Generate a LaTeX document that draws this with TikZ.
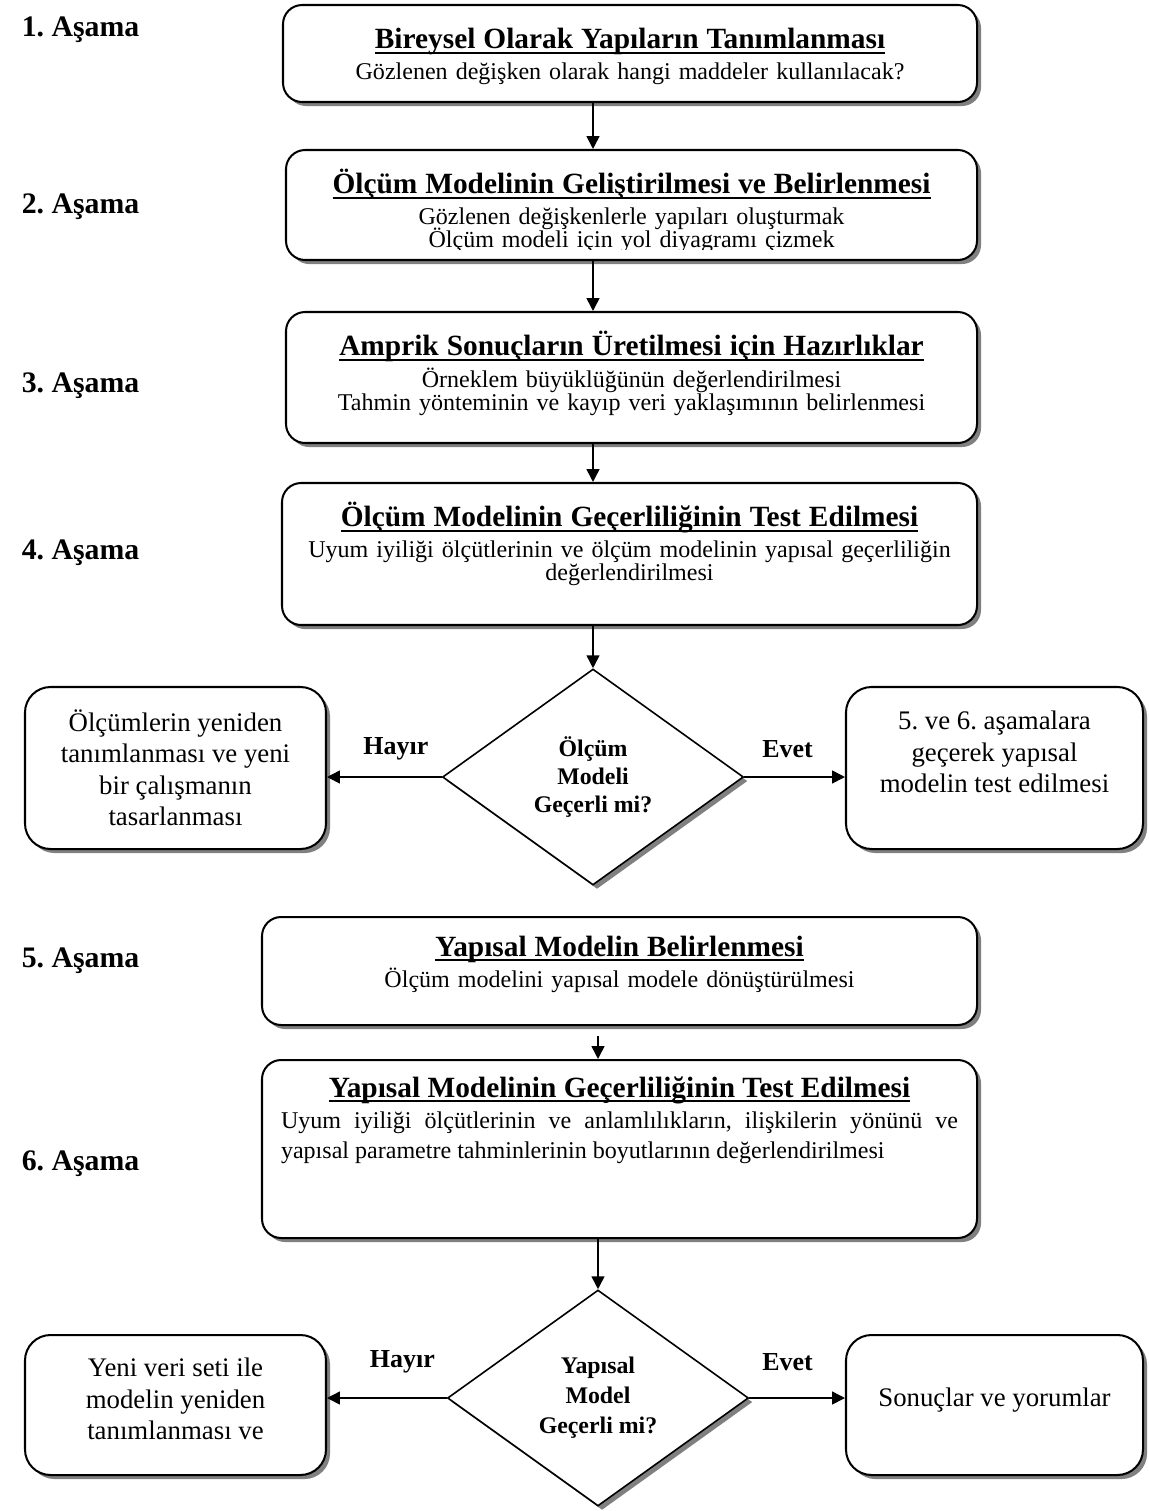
\documentclass[tikz,border=0pt]{standalone}
\usepackage{fontspec}
\setmainfont{Liberation Serif}
\usetikzlibrary{arrows.meta, positioning, shapes.geometric, shadows}
\frenchspacing

\newdimen\pxu
\pxu=0.47pt
\newcommand{\boxtitle}[1]{{\fontsize{13.8}{16}\selectfont\bfseries
  \setbox0=\hbox{#1}\rlap{\rule[-2.4pt]{\wd0}{0.9pt}}\box0}}

\begin{document}
\begin{tikzpicture}[x=\pxu, y=-\pxu,
    shadowed/.style={drop shadow={shadow xshift=1.9pt, shadow yshift=-1.9pt, fill=black!50, opacity=1}},
    stagebox/.style={draw, line width=0.95pt, rounded corners=9pt, fill=white, shadowed, inner sep=0pt},
    sidebox/.style={stagebox, rounded corners=12pt, minimum width=300\pxu},
    decision/.style={diamond, draw, line width=0.75pt, fill=white, shadowed, inner sep=0pt,
        minimum width=301\pxu, minimum height=216\pxu, align=center},
    boxtext/.style={align=center, inner sep=0pt, text width=670\pxu,
        font={\fontsize{11.3}{10.8}\selectfont\lineskiplimit=-20pt}},
    sidetext/.style={align=center, inner sep=0pt, font=\fontsize{12.6}{14.8}\selectfont},
    stagelbl/.style={font=\fontsize{14}{16}\selectfont\bfseries},
    answer/.style={font=\fontsize{12.2}{14}\selectfont\bfseries, inner sep=0pt},
    arr/.style={-{Triangle[length=6pt, width=6pt]}, line width=0.75pt}
]
\useasboundingbox (0,0) rectangle (1149,1511);

% stage labels
\node[stagelbl] (s1) at (80.5,30) {1. Aşama};
\node[stagelbl] (s2) at (80.5,207) {2. Aşama};
\node[stagelbl] (s3) at (80.5,386) {3. Aşama};
\node[stagelbl] (s4) at (80.5,553) {4. Aşama};
\node[stagelbl] (s5) at (80.5,961) {5. Aşama};
\node[stagelbl] (s6) at (80.5,1164) {6. Aşama};

% main boxes
\node[stagebox, minimum width=694\pxu, minimum height=97\pxu] (b1) at (630,53.5) {};
\node[boxtext, anchor=base] (t1) at ([yshift=-45\pxu]b1.north)
    {\boxtitle{Bireysel Olarak Yapıların Tanımlanması}\\[3.5pt]
     Gözlenen değişken olarak hangi maddeler kullanılacak?};

\node[stagebox, minimum width=691\pxu, minimum height=110\pxu] (b2) at (631.5,205) {};
\begin{scope}
  \clip (b2.north west) rectangle ([yshift=12\pxu]b2.south east);
  \node[boxtext, anchor=base] (t2) at ([yshift=-45\pxu]b2.north)
      {\boxtitle{Ölçüm Modelinin Geliştirilmesi ve Belirlenmesi}\\[3.5pt]
       Gözlenen değişkenlerle yapıları oluşturmak\\
       Ölçüm modeli için yol diyagramı çizmek};
\end{scope}

\node[stagebox, minimum width=691\pxu, minimum height=131\pxu] (b3) at (631.5,377.5) {};
\node[boxtext, anchor=base] (t3) at ([yshift=-45\pxu]b3.north)
    {\boxtitle{Amprik Sonuçların Üretilmesi için Hazırlıklar}\\[4pt]
     Örneklem büyüklüğünün değerlendirilmesi\\
     Tahmin yönteminin ve kayıp veri yaklaşımının belirlenmesi};

\node[stagebox, minimum width=695\pxu, minimum height=142\pxu] (b4) at (629.5,554) {};
\node[boxtext, anchor=base] (t4) at ([yshift=-45\pxu]b4.north)
    {\boxtitle{Ölçüm Modelinin Geçerliliğinin Test Edilmesi}\\[3.5pt]
     Uyum iyiliği ölçütlerinin ve ölçüm modelinin yapısal geçerliliğin\\
     değerlendirilmesi};

% first decision
\node[decision, font=\fontsize{11.2}{13.2}\selectfont\bfseries] (d1) at (593,777)
    {Ölçüm\\Modeli\\Geçerli mi?};
\node[sidebox, minimum width=301\pxu, minimum height=162\pxu] (no1) at (175.5,768) {};
\node[sidetext] (no1t) at (no1.center)
    {Ölçümlerin yeniden\\tanımlanması ve yeni\\bir çalışmanın\\tasarlanması};
\node[sidebox, minimum width=297\pxu, minimum height=162\pxu] (yes1) at (994.5,768) {};
\node[sidetext] (yes1t) at ([yshift=16\pxu]yes1.center)
    {5. ve 6. aşamalara\\geçerek yapısal\\modelin test edilmesi};

\node[stagebox, minimum width=715\pxu, minimum height=108\pxu] (b5) at (619.5,971) {};
\node[boxtext, anchor=base] (t5) at ([yshift=-40\pxu]b5.north)
    {\boxtitle{Yapısal Modelin Belirlenmesi}\\[4pt]
     Ölçüm modelini yapısal modele dönüştürülmesi};

\node[stagebox, minimum width=715\pxu, minimum height=178\pxu] (b6) at (619.5,1149) {};
\node[boxtext, anchor=base, text width=677\pxu, align=justify,
      font={\fontsize{11.3}{14.1}\selectfont\lineskiplimit=-20pt}] (t6) at ([yshift=-38\pxu]b6.north)
    {{\centering\boxtitle{Yapısal Modelinin Geçerliliğinin Test Edilmesi}\par}\vspace{0.8pt}
     Uyum iyiliği ölçütlerinin ve anlamlılıkların, ilişkilerin yönünü ve\linebreak
     yapısal parametre tahminlerinin boyutlarının değerlendirilmesi};

% second decision
\node[decision, font=\fontsize{11.2}{14.1}\selectfont\bfseries] (d2) at (598,1398)
    {Yapısal\\Model\\Geçerli mi?};
\node[sidebox, minimum width=301\pxu, minimum height=140\pxu] (no2) at (175.5,1405) {};
\node[sidetext] (no2t) at ([yshift=6\pxu]no2.center)
    {Yeni veri seti ile\\modelin yeniden\\tanımlanması ve};
\node[sidebox, minimum width=297\pxu, minimum height=140\pxu] (yes2) at (994.5,1405) {};
\node[sidetext] (yes2t) at ([yshift=5\pxu]yes2.center) {Sonuçlar ve yorumlar};

% arrows
\draw[arr] (b1.south -| d1) -- (b2.north -| d1);
\draw[arr] (b2.south -| d1) -- (b3.north -| d1);
\draw[arr] (b3.south -| d1) -- (b4.north -| d1);
\draw[arr] (b4.south -| d1) -- (d1.north);
\draw[arr] (d1.west) -- node[answer, pos=0.4, yshift=28\pxu] {Hayır} (d1.west -| no1.east);
\draw[arr] (d1.east) -- node[answer, pos=0.43, yshift=28\pxu] {Evet} (d1.east -| yes1.west);
\draw[arr, shorten <=10\pxu] (b5.south -| d2) -- (b6.north -| d2);
\draw[arr] (b6.south -| d2) -- (d2.north);
\draw[arr] (d2.west) -- node[answer, pos=0.37, yshift=36\pxu] {Hayır} (d2.west -| no2.east);
\draw[arr] (d2.east) -- node[answer, pos=0.4, yshift=36\pxu] {Evet} (d2.east -| yes2.west);
\end{tikzpicture}
\end{document}
